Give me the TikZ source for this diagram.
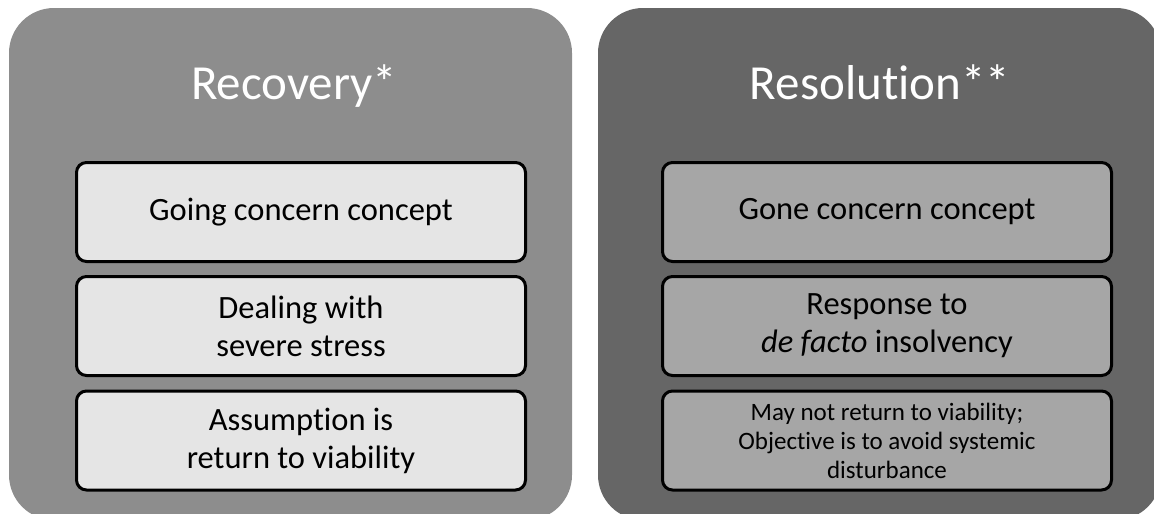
\documentclass[tikz,border=0pt]{standalone}
\usepackage{fontspec}
\setmainfont{Carlito}[Ligatures=NoCommon, RawFeature={-liga;-clig;-calt;-dlig}]
\definecolor{recpanel}{gray}{0.553}
\definecolor{respanel}{gray}{0.40}
\definecolor{recitem}{gray}{0.90}
\definecolor{resitem}{gray}{0.65}
\tikzset{
  panel/.style={rectangle, rounded corners=45pt, inner sep=0pt,
    minimum width=563pt, minimum height=512pt},
  paneltitle/.style={text=white, anchor=base, inner sep=0pt,
    font=\fontsize{49}{58}\selectfont},
  itembox/.style={rectangle, draw=black, line width=3pt, rounded corners=10pt,
    minimum width=449pt, minimum height=99pt, inner sep=0pt, align=center,
    font=\fontsize{32.5}{38}\selectfont},
  smalltext/.style={font=\fontsize{25}{29}\selectfont}
}
\begin{document}
\begin{tikzpicture}[x=1pt,y=-1pt]
  \useasboundingbox (0,0) rectangle (1154,514);
  \clip (0,0) rectangle (1154,514);
  % background panels
  \node[panel, fill=recpanel] (rec) at (290.5,264) {};
  \node[panel, fill=respanel] (res) at (879.5,264) {};
  % titles
  \node[paneltitle] (rectitle) at (294,99) {Recovery*};
  \node[paneltitle] (restitle) at (880,99) {Resolution**};
  % recovery items
  \node[itembox, fill=recitem] (rec1) at (301,212) {Going concern concept};
  \node[itembox, fill=recitem] (rec2) at (301,326) {Dealing with\\severe stress};
  \node[itembox, fill=recitem] (rec3) at (301,440.5) {Assumption is\\return to viability};
  % resolution items
  \node[itembox, fill=resitem] (res1) at (887,212) {Gone concern concept};
  \node[itembox, fill=resitem] (res2) at (887,326) {Response to\\\textit{de facto} insolvency};
  \node[itembox, fill=resitem, smalltext] (res3) at (887,440.5)
    {May not return to viability;\\Objective is to avoid systemic\\disturbance};
\end{tikzpicture}
\end{document}
